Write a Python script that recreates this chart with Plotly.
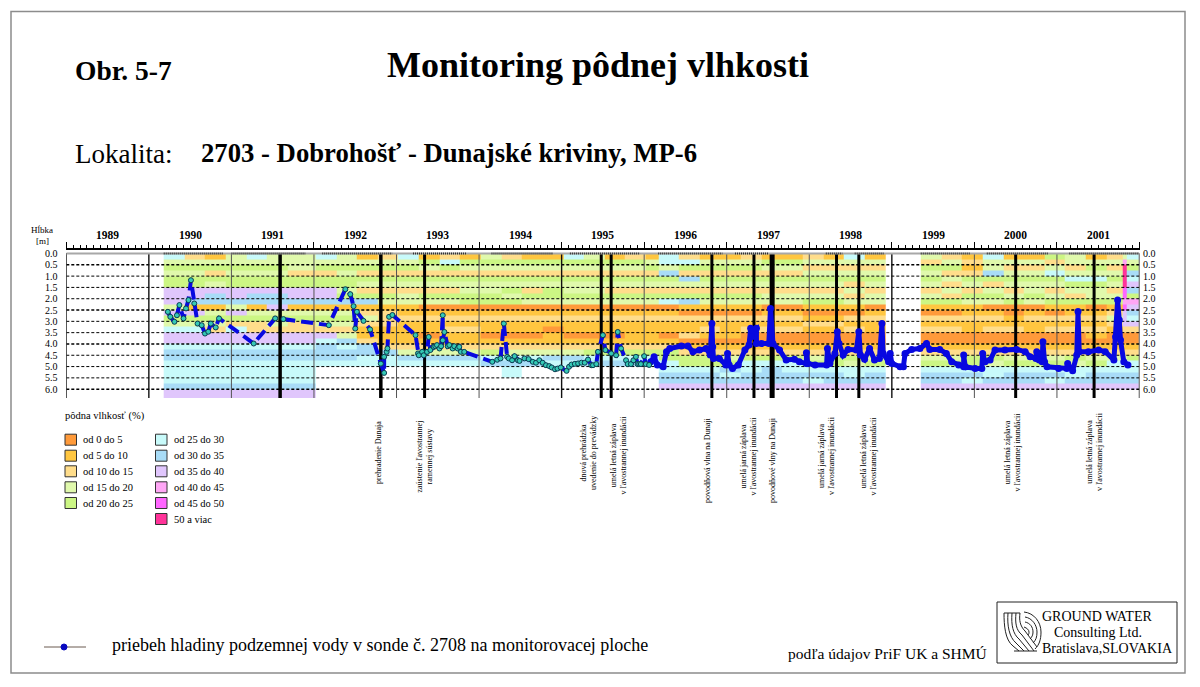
import plotly.graph_objects as go

FONT = "Liberation Serif"

# ---- data ----
year_starts = list(range(1989, 2003))
year_labels = [str(y) for y in range(1989, 2002)]
depth_ticks = [0, 0.5, 1, 1.5, 2, 2.5, 3, 3.5, 4, 4.5, 5, 5.5, 6]
depth_edges = [i * 0.25 for i in range(26)] + [6.39]

class_codes = "abcdefghijk"
class_colors = ["#FF9A3A", "#FFC640", "#FFDD8B", "#E0F9AC", "#CCF684", "#C8FAFA",
                "#A8DCF7", "#E0C6FC", "#FFA6F5", "#FF66FF", "#FF3399"]
legend_labels = ["od 0 do 5", "od 5 do 10", "od 10 do 15", "od 15 do 20", "od 20 do 25",
                 "od 25 do 30", "od 30 do 35", "od 35 do 40", "od 40 do 45", "od 45 do 50", "50 a viac"]

column_edges = [1990.18, 1990.43, 1990.68, 1990.93, 1991.18, 1991.43, 1991.68, 1992.02,
                1992.27, 1992.52, 1992.77, 1993.02, 1993.27, 1993.52, 1993.77, 1994.02,
                1994.27, 1994.52, 1994.77, 1995.02, 1995.27, 1995.52, 1995.77, 1996.02, 1996.17,
                1996.42, 1996.67, 1996.92, 1997.17, 1997.42, 1997.67, 1997.92, 1998.17, 1998.42,
                1998.67, 1998.92, 1999.35, 1999.60, 1999.85, 2000.10, 2000.35, 2000.60, 2000.85,
                2001.10, 2001.35, 2001.60, 2001.80, 2001.85, 2001.99]

moisture_columns = [
    "fdedeehhhd hedfhhfggf fffghh",
    "cdedeehhgb hedfhhfggf fffghh",
    "bdecedhggb dedchhfggf fffghh",
    "ddedeehhgd hecfhhfggf fffghh",
    "fdedeehggb decchhfggf fffghh",
    "ddedeehggh dedchhfggf fffghh",
    "dddceehhgb decchhfggf fffghh",
    "fdeceehhgb dedchfgggf ......",
    "ddedeedegb dedcdgfggf ......",
    "bdecedcegb cdcbbcggff ......",
    "cdecedcedb cccbbbcgff ......",
    "fdecedcddb bcbbbbcdgf ......",
    "bedcedceda bcbbabcdgf ......",
    "cfecedceda bcbcbbcdgf ......",
    "bedceddeea bcbcbbcdgf ......",
    "dedceddeea bcbbabcefg ......",
    "cedcededea bcbbabcdfg ff....",
    "bedcedceda bcbbabcdfg ......",
    "bedcedeeda bcbabbcdgf ......",
    "fedceddeda bcbbabcdgf ......",
    "dedceddeda bcbbabcefg ......",
    "bedcedceda bcbbabcefg ......",
    "cedcedceda bcbbbbcefg ......",
    "bdecedceda bcbbbbceff ......",
    "ffdgedcefa bcbbabceef fggh..",
    "cfecgdcegb acbbcabcee fggh..",
    "bdecedcedb acbcbabcee fggh..",
    "bdecedcedb acbbbabcde gfgh..",
    "cdecedcedb acbcaabcef fggh..",
    "bedcedcdda bcbcaabcef gggh..",
    "bedcedcdda bcbcaabcef fggh..",
    "cdcdedcdeb abcbaabcde fgfh..",
    "bdcdedcdeb abcbaabcee fggh..",
    "fdcdecdcdb acbcaabced ffgh..",
    "bdcdedcdda bcbbaabcde fggh..",
    ".......... .......... ......",
    "dcededcdeb acbcaabcde fggh..",
    "cdecdcdceb acbcaabcde fggh..",
    "bcbcedcedb bcbbaabcee fgfh..",
    "fddgecdeda bcbcaabced ffgh..",
    "bdcdedcdea abbcaabcde fggh..",
    "bdcdeddeda bcbbaabcde fggh..",
    "ecdfedcdeb acbcaabcde fgfh..",
    "ddcdfedceb bcbcaabced ffgh..",
    "bdedfeddea bcbcbabcde fggh..",
    "cdcdedcdeb cdcbaabcdf fggh..",
    "dikkkkjjij hhhcaabcdf fggh..",
    "fdegfhgeih gfhcaabcef fggh..",
]

level_years_early = [
    1990.23, 1990.26, 1990.31, 1990.34, 1990.37, 1990.42, 1990.45, 1990.48, 1990.51, 1990.55,
    1990.59, 1990.64, 1990.68, 1990.72, 1990.75, 1990.81, 1990.85, 1991.27, 1991.53, 1991.63,
    1992.18, 1992.38, 1992.44, 1992.48, 1992.50, 1992.52, 1992.60, 1992.68, 1992.81, 1992.85,
    1992.85, 1992.88, 1992.89, 1992.91, 1992.95, 1993.23, 1993.26, 1993.27, 1993.31, 1993.33,
    1993.37, 1993.39, 1993.41, 1993.45, 1993.47, 1993.49, 1993.52, 1993.54, 1993.56, 1993.56,
    1993.58, 1993.62, 1993.64, 1993.68, 1993.70, 1993.74, 1993.76, 1993.78, 1993.82, 1994.16,
    1994.22, 1994.26, 1994.30, 1994.34, 1994.36, 1994.40, 1994.43, 1994.47, 1994.49, 1994.55,
    1994.60, 1994.65, 1994.69, 1994.73, 1994.77, 1994.81, 1994.85, 1994.88, 1994.92, 1994.95,
    1994.99, 1995.06, 1995.09, 1995.12, 1995.16, 1995.20, 1995.24, 1995.28, 1995.32, 1995.36,
    1995.38, 1995.42, 1995.44, 1995.50, 1995.53, 1995.60, 1995.66, 1995.68, 1995.72, 1995.78,
    1995.80, 1995.84, 1995.87, 1995.90, 1995.92, 1995.94, 1995.96, 1996.00, 1996.02, 1996.06]
level_depths_early = [
    2.58, 2.80, 3.02, 2.73, 2.28, 2.87, 2.43, 2.06, 1.18, 2.21,
    3.10, 3.17, 3.54, 3.46, 3.10, 3.27, 2.87, 3.98, 2.87, 2.90,
    3.17, 1.58, 1.80, 2.33, 3.32, 2.58, 2.98, 3.36, 4.87, 5.28,
    4.57, 4.35, 4.20, 2.80, 2.72, 3.61, 4.42, 4.50, 4.35, 4.50,
    4.35, 3.69, 4.27, 4.13, 4.10, 4.05, 4.20, 4.10, 2.73, 3.84,
    3.47, 4.10, 4.05, 4.20, 4.10, 4.20, 4.13, 4.35, 4.35, 4.79,
    4.70, 4.64, 3.10, 4.57, 4.64, 4.72, 4.54, 4.72, 4.75, 4.64,
    4.67, 4.79, 4.83, 4.72, 4.83, 4.94, 4.98, 5.04, 5.12, 5.09,
    5.04, 5.19, 5.01, 4.91, 4.88, 4.86, 4.83, 4.83, 4.69, 4.94,
    4.94, 4.89, 4.35, 3.61, 4.27, 4.42, 4.50, 3.47, 4.20, 4.72,
    4.89, 4.89, 4.72, 4.57, 4.89, 4.89, 4.89, 4.54, 4.89, 4.93]

level_years_late = [
    1996.08, 1996.12, 1996.16, 1996.23, 1996.27, 1996.31, 1996.45, 1996.53, 1996.59, 1996.67,
    1996.75, 1996.80, 1996.82, 1996.83, 1996.84, 1996.91, 1996.99, 1997.01, 1997.03, 1997.07,
    1997.14, 1997.22, 1997.27, 1997.29, 1997.30, 1997.32, 1997.36, 1997.36, 1997.42, 1997.51,
    1997.53, 1997.56, 1997.64, 1997.72, 1997.82, 1997.88, 1997.965, 1997.965, 1997.98, 1998.07,
    1998.21, 1998.22, 1998.25, 1998.31, 1998.34, 1998.36, 1998.41, 1998.47, 1998.57, 1998.60,
    1998.62, 1998.67, 1998.73, 1998.79, 1998.85, 1998.88, 1998.895, 1998.96, 1998.98, 1999.00,
    1999.10, 1999.14, 1999.16, 1999.24, 1999.34, 1999.42, 1999.46, 1999.58, 1999.66, 1999.725,
    1999.81, 1999.87, 1999.87, 1999.89, 2000.01, 2000.09, 2000.10, 2000.13, 2000.19, 2000.25,
    2000.37, 2000.51, 2000.615, 2000.675, 2000.745, 2000.755, 2000.785, 2000.82, 2000.83, 2000.85,
    2000.88, 2001.02, 2001.12, 2001.13, 2001.19, 2001.24, 2001.255, 2001.27, 2001.38, 2001.505,
    2001.585, 2001.69, 2001.71, 2001.735, 2001.755, 2001.77, 2001.81, 2001.86]
level_depths_late = [
    4.79, 4.57, 4.93, 5.01, 4.34, 4.20, 4.09, 4.09, 4.34, 4.27,
    4.20, 4.49, 3.09, 4.12, 4.64, 4.64, 4.93, 4.42, 4.93, 5.08,
    4.93, 4.27, 4.05, 3.31, 3.68, 3.39, 3.31, 3.98, 3.98, 3.98,
    2.43, 3.98, 4.27, 4.71, 4.68, 4.79, 4.86, 4.39, 4.86, 4.93,
    4.93, 4.20, 4.86, 4.42, 3.46, 3.98, 4.49, 4.24, 4.27, 3.46,
    4.49, 4.68, 4.20, 4.71, 4.64, 3.09, 4.42, 4.79, 4.42, 4.86,
    5.01, 5.01, 4.42, 4.24, 4.20, 3.98, 4.24, 4.24, 4.42, 4.79,
    4.93, 5.01, 4.49, 5.01, 5.08, 5.08, 4.42, 4.79, 4.71, 4.27,
    4.27, 4.24, 4.34, 4.57, 4.64, 4.34, 4.71, 4.79, 3.90, 4.79,
    5.01, 5.08, 5.08, 4.86, 5.19, 4.49, 2.57, 4.34, 4.34, 4.27,
    4.34, 4.71, 3.68, 2.06, 2.94, 3.83, 4.79, 4.93]

event_years = [1991.59, 1992.81, 1993.34, 1995.48, 1995.60, 1996.82, 1997.33, 1997.55,
               1998.33, 1998.60, 2000.50, 2001.45]
event_widths = [3.5, 3.5, 3, 3, 3, 3, 3, 5, 3, 3, 3, 3]
event_labels = ["", "prehradenie Dunaja", "zaústenie ľavostrannej<br>ramennej sústavy",
                "dnová prehrádzka<br>uvedenie do prevádzky",
                "umelá letná záplava<br>v ľavostrannej inundácii",
                "povodňová vlna na Dunaji",
                "umelá jarná záplava<br>v ľavostrannej inundácii",
                "povodňové vlny na Dunaji",
                "umelá jarná záplava<br>v ľavostrannej inundácii",
                "umelá letná záplava<br>v ľavostrannej inundácii",
                "umelá letná záplava<br>v ľavostrannej inundácii",
                "umelá letná záplava<br>v ľavostrannej inundácii"]
event_label_x = [0, 378, 423.5, 588, 617.5, 707, 747.5, 772, 826, 867.5, 1011.5, 1094]
event_label_y = [0, 453, 457, 453, 455, 461, 456, 460, 456, 456, 452, 452]
measure_periods = [(1990.18, 1990.9), (1991.0, 1991.9), (1992.1, 1992.95), (1993.2, 1993.85),
                   (1994.15, 1994.9), (1995.1, 1995.95), (1996.17, 1996.95), (1997.1, 1997.5),
                   (1998.2, 1998.4), (1998.55, 1998.9), (1999.35, 1999.95), (2000.15, 2000.9),
                   (2001.15, 2001.99)]

# ---- figure (the page body has an 8 px margin, so the paper starts at 8,8) ----
OFF = 8
W, H = 1200 - OFF, 687 - OFF
PX_L, PX_R, PX_T, PX_B = 66.3, 1139.5, 249.5, 398.0
fig = go.Figure()

name_to_index = {c: i for i, c in enumerate(class_codes)}
columns = [c.replace(" ", "") for c in moisture_columns]
z = [[(name_to_index.get(col[r]) if col[r] != "." else None) for col in columns]
     for r in range(len(depth_edges) - 1)]
n = len(class_colors)
scale = []
for i, col in enumerate(class_colors):
    scale += [[i / n, col], [(i + 1) / n, col]]
fig.add_trace(go.Heatmap(x=column_edges, y=depth_edges, z=z, zmin=0, zmax=n, colorscale=scale,
                         showscale=False, hoverinfo="skip"))


def line_trace(xs, ys, color, width, dash="solid"):
    fig.add_trace(go.Scatter(x=xs, y=ys, mode="lines", hoverinfo="skip", showlegend=False,
                             line=dict(color=color, width=width, dash=dash)))


BOTTOM = depth_edges[-1]
for d in depth_ticks:
    w = 1.4 if d in (0.5, 2.5, 4, 6) else 1
    line_trace([1989, 2002], [d, d], "#000000", w, "3px,2px")
for y in year_starts:
    heavy = y in (1989, 1990, 1995, 1999, 2002)
    line_trace([y, y], [0, BOTTOM], "#111111" if heavy else "#555555", 1.4 if heavy else 1)
for ey, ew in zip(event_years, event_widths):
    line_trace([ey, ey], [0, BOTTOM], "#000000", ew)
line_trace([1989, 2002], [0, 0], "#A8A8A8", 2)
for a, b in measure_periods:
    line_trace([a, b], [0, 0], "#333333", 2, "1px,1px")

fig.add_trace(go.Scatter(x=level_years_late, y=level_depths_late, mode="lines+markers",
                         hoverinfo="skip", showlegend=False,
                         line=dict(color="#0808E0", width=5),
                         marker=dict(color="#0808E0", size=7)))
fig.add_trace(go.Scatter(x=level_years_early, y=level_depths_early, mode="lines+markers",
                         hoverinfo="skip", showlegend=False,
                         line=dict(color="#0808E0", width=4, dash="12px,6px"),
                         marker=dict(color="#35C9B5", size=5, line=dict(color="#0B3C50", width=1))))
# empty pixel-space overlay that carries page decoration
fig.add_trace(go.Scatter(x=[100], y=[100], xaxis="x2", yaxis="y2", mode="markers",
                         marker=dict(opacity=0), hoverinfo="skip", showlegend=False))

ann = []


def text(x, y, s, size, bold=False, anchor="left", angle=0, color="#000000", xref="x2", yref="y2"):
    ann.append(dict(x=x, y=y, xref=xref, yref=yref, text=f"<b>{s}</b>" if bold else s,
                    showarrow=False, xanchor=anchor, yanchor="middle", textangle=angle,
                    font=dict(family=FONT, size=size, color=color), align="center",
                    borderpad=0, borderwidth=0))


text(75, 70, "Obr. 5-7", 27.5, True)
text(598, 65, "Monitoring pôdnej vlhkosti", 36, True, "center")
text(75, 154, "Lokalita:", 27)
text(201, 153, "2703 - Dobrohošť - Dunajské kriviny, MP-6", 26.7, True)
text(42, 230, "Hĺbka", 9, False, "center")
text(42, 241, "[m]", 9, False, "center")
for lab, y in zip(year_labels, year_starts):
    text(y + 0.5, 235, lab, 11.5, True, "center", xref="x")
for d in depth_ticks:
    t = f"{d:.1f}"
    text(57.5, d, t, 10, False, "right", yref="y")
    text(1142.5, d, t, 10, False, "left", yref="y")
for lab, x, y in zip(event_labels, event_label_x, event_label_y):
    if lab:
        text(x, y, lab, 8, False, "center", -90)

text(65, 416, "pôdna vlhkosť (%)", 10.5)
shapes = []
swatch_x = [65] * 5 + [155.5] * 6
swatch_y = [439.7, 455.7, 471.3, 487.3, 503, 439.7, 455.7, 471.3, 487.3, 503, 519]
for col, lab, sx, sy in zip(class_colors, legend_labels, swatch_x, swatch_y):
    shapes.append(dict(type="rect", xref="x2", yref="y2", x0=sx, x1=sx + 11.5, y0=sy - 5.5, y1=sy + 5.5,
                       fillcolor=col, line=dict(color="#333333", width=1)))
    text(sx + 18, sy, lab, 10.5)

# bottom key
shapes.append(dict(type="line", xref="x2", yref="y2", x0=44, x1=86, y0=647, y1=647,
                   line=dict(color="#6B5A50", width=1)))
shapes.append(dict(type="circle", xref="x2", yref="y2", x0=61, x1=67, y0=644, y1=650,
                   fillcolor="#0808C0", line=dict(color="#0808C0", width=1)))
text(112, 645, "priebeh hladiny podzemnej vody v sonde č. 2708 na monitorovacej ploche", 18)
text(788, 653, "podľa údajov PriF UK a SHMÚ", 15.5)

# page frame
shapes.append(dict(type="rect", xref="x2", yref="y2", x0=11, x1=1185, y0=11.5, y1=673,
                   line=dict(color="#8C8C8C", width=1.5)))
# logo box
shapes.append(dict(type="rect", xref="x2", yref="y2", x0=997, x1=1177, y0=602, y1=663,
                   line=dict(color="#222222", width=1), fillcolor="white"))
text(1097, 616, "GROUND WATER", 14, False, "center")
text(1098, 632, "Consulting Ltd.", 14, False, "center")
text(1107, 648, "Bratislava,SLOVAKIA", 14, False, "center")
logo_paths = [
    "M1004,613 C1004,625 1005,640 1013,646 L1019,651",
    "M1008,613 C1007,625 1009,637 1016,643 L1024,651",
    "M1012,613 C1011,625 1013,634 1019,639 L1029,651",
    "M1016,613 C1015,623 1016,630 1022,635 L1034,651",
    "M1020,613 C1019,620 1020,626 1025,631 L1037,647",
    "M1024,612 C1034,613 1041,622 1041,632 C1041,640 1039,645 1035,649",
    "M1025,617 C1032,618 1037,625 1037,632 C1037,637 1036,640 1033,643",
    "M1025,622 C1030,623 1033,627 1033,632 C1033,635 1032,637 1030,639",
    "M1024,627 C1027,628 1029,630 1029,632 C1029,633 1029,634 1028,635",
    "M1004,613 L1020,613",
    "M1014,651 L1037,651",
]
for p in logo_paths:
    shapes.append(dict(type="path", xref="x2", yref="y2", path=p, line=dict(color="#222222", width=1)))

fig.update_layout(
    width=W, height=H, autosize=False, margin=dict(l=0, r=0, t=0, b=0),
    paper_bgcolor="white", plot_bgcolor="rgba(0,0,0,0)", showlegend=False,
    annotations=ann, shapes=shapes,
    xaxis=dict(domain=[(PX_L - OFF) / W, (PX_R - OFF) / W], range=[1989, 2002], side="top", anchor="y",
               showgrid=False, zeroline=False, showline=True, linecolor="#000000", linewidth=2,
               ticks="outside", ticklen=6, tickwidth=1, tickcolor="#000000",
               tickmode="array", tickvals=year_starts, showticklabels=False,
               minor=dict(tickmode="array", tickvals=[1989 + i / 12 for i in range(157)],
                          ticks="outside", ticklen=3, tickwidth=1, tickcolor="#000000", showgrid=False)),
    yaxis=dict(domain=[1 - (PX_B - OFF) / H, 1 - (PX_T - OFF) / H], range=[BOTTOM, -0.177], anchor="x",
               showgrid=False, zeroline=False, showline=False, ticks="", showticklabels=False),
    xaxis2=dict(domain=[0, 1], range=[OFF, 1200], anchor="y2", visible=False, fixedrange=True),
    yaxis2=dict(domain=[0, 1], range=[687, OFF], anchor="x2", visible=False, fixedrange=True),
)
fig.write_html("out.html")
